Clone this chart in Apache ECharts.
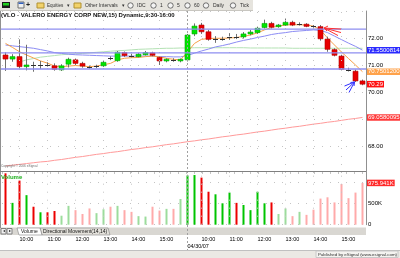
<!DOCTYPE html>
<html><head><meta charset="utf-8">
<script src="https://cdn.jsdelivr.net/npm/echarts@6/dist/echarts.min.js"></script>
<style>html,body{margin:0;padding:0;background:#fff}#c{width:400px;height:258px}</style>
</head><body><div id="c"></div>
<script>
// ---------------- data ----------------
const sessionTimes = ["9:30","9:45","10:00","10:15","10:30","10:45","11:00","11:15","11:30","11:45","12:00","12:15","12:30","12:45","13:00","13:15","13:30","13:45","14:00","14:15","14:30","14:45","15:00","15:15","15:30","15:45"];
const sessionDates = ["04/27/07","04/30/07"];
const categories = sessionDates.flatMap(d => sessionTimes.map(t => d + " " + t));

const open  = [71.37,71.22,71.31,70.94,71.00,70.99,71.04,70.97,70.82,71.03,71.19,71.06,70.94,70.92,70.97,71.26,71.16,71.46,71.34,71.31,71.38,71.45,71.28,71.15,71.21,71.15,
               71.19,72.15,72.48,72.23,71.95,71.97,72.02,72.04,72.04,72.15,72.20,72.39,72.54,72.42,72.48,72.58,72.51,72.51,72.46,72.42,71.96,71.57,71.33,70.84,70.77,70.41];
const high  = [71.47,71.40,71.95,71.75,71.12,71.15,71.10,71.06,71.03,71.27,71.24,71.12,70.98,71.01,71.16,71.32,71.52,71.50,71.42,71.44,71.52,71.49,71.31,71.25,71.25,71.24,
               72.15,72.54,72.56,72.30,72.07,72.05,72.18,72.15,72.22,72.30,72.42,72.68,72.60,72.52,72.72,72.64,72.58,72.55,72.48,72.48,72.05,71.62,71.38,70.90,70.83,70.46];
const low   = [70.78,71.12,70.84,70.80,70.75,70.85,70.94,70.79,70.78,70.91,71.00,70.90,70.86,70.88,70.93,71.18,71.12,71.30,71.28,71.28,71.35,71.32,71.00,71.10,71.12,71.10,
               71.13,72.07,72.15,71.90,71.82,71.90,71.93,71.96,71.98,72.10,72.15,72.35,72.35,72.38,72.45,72.44,72.46,72.40,72.38,71.90,71.49,71.32,70.80,70.76,70.37,70.25];
const close = [71.22,71.31,70.94,71.00,70.99,71.00,70.99,70.84,70.97,71.21,71.06,70.96,70.90,70.97,71.10,71.25,71.47,71.35,71.33,71.40,71.46,71.36,71.15,71.21,71.16,71.21,
               72.11,72.44,72.23,71.95,71.96,71.98,72.03,72.03,72.15,72.22,72.36,72.54,72.40,72.48,72.58,72.48,72.52,72.43,72.42,71.97,71.58,71.36,70.84,70.80,70.41,70.29];
const volume = [1200000,510000,1030000,690000,420000,290000,290000,320000,210000,440000,340000,250000,380000,270000,360000,420000,440000,340000,300000,200000,190000,420000,330000,370000,370000,600000,
                1150000,1160000,1100000,770000,710000,500000,750000,510000,460000,340000,770000,500000,520000,250000,380000,200000,300000,230000,350000,610000,640000,520000,950000,620000,750000,975941];
const maOrange = [71.80,71.65,71.49,71.37,71.26,71.15,71.07,70.96,70.94,70.96,70.98,70.96,70.94,70.96,71.01,71.06,71.19,71.25,71.27,71.28,71.31,71.33,71.30,71.25,71.21,71.19,
                  71.48,71.80,71.95,71.98,71.99,71.99,72.00,72.02,72.06,72.11,72.19,72.30,72.39,72.44,72.48,72.49,72.49,72.48,72.44,72.30,72.00,71.74,71.48,71.24,71.00,70.75012];
const maBlue = [71.74,71.71,71.68,71.65,71.62,71.57,71.52,71.46,71.43,71.40,71.38,71.37,71.36,71.35,71.34,71.33,71.33,71.33,71.33,71.33,71.33,71.33,71.31,71.31,71.30,71.30,
                71.35,71.44,71.52,71.59,71.67,71.72,71.78,71.85,71.91,71.96,72.02,72.07,72.13,72.17,72.20,72.24,72.26,72.28,72.30,72.28,72.20,72.07,71.94,71.81,71.69,71.5500814];
const maGreen = [null,null,71.11,71.19,71.24,71.29,71.32,71.35,71.38,71.40,71.41,71.43,71.45,71.47,71.49,71.51,71.53,71.54,71.56,71.58,71.59,71.60,71.61,71.62,71.62,71.63,
                 71.63,71.64,71.64,71.64,71.64,71.64,71.64,71.64,71.64,71.63,71.63,71.63,71.63,71.63,71.63,71.62,71.62,71.62,71.62,71.62,71.62,71.62,71.62,71.62,71.62,71.62];
const maRed = [67.26,67.29,67.32,67.35,67.38,67.41,67.43,67.47,67.50,67.54,67.58,67.61,67.65,67.69,67.72,67.76,67.79,67.83,67.87,67.90,67.94,67.97,68.01,68.05,68.08,68.12,
               68.16,68.19,68.23,68.26,68.30,68.34,68.37,68.41,68.44,68.48,68.52,68.55,68.59,68.63,68.66,68.70,68.73,68.77,68.81,68.84,68.88,68.91,68.95,68.99,69.02,69.0580095];
const trendLines = [72.33, 71.45, 70.85];
const priceTicks = [68, 70, 71, 72];
const volumeTicks = [0, 500000];
const brightVolumeRanges = [[0, 7], [26, 38]];

// ---------------- chart ----------------
const FONT = '"Liberation Sans", Arial, sans-serif';
const timeOf = i => categories[i].split(" ")[1];
const dateOf = i => categories[i].split(" ")[0];
const isHour = i => timeOf(i).endsWith(":00");
const isDayStart = i => i > 0 && timeOf(i) === sessionTimes[0];
const gridIdx = categories.map((c, i) => i).filter(i => isHour(i));
const dayIdx = categories.map((c, i) => i).filter(i => isDayStart(i));

const chart = echarts.init(document.getElementById('c'), null, {renderer: 'canvas', width: 400, height: 258});
const dotted = {color: '#c4c4c4', width: 1, type: [1, 7]};
const vMarks = gridIdx.map(i => ({xAxis: i, lineStyle: dotted}))
  .concat(dayIdx.map(i => ({xAxis: i, lineStyle: {color: '#a0a0a0', width: 1, type: [2, 2]}})));
const markCfg = {silent: true, symbol: ['none', 'none'], label: {show: false}, animation: false, data: vMarks};

const candleData = open.map((o, i) => [i, o, close[i], low[i], high[i]]);
const isBright = i => brightVolumeRanges.some(r => i >= r[0] && i <= r[1]);

chart.setOption({
  animation: false,
  backgroundColor: '#ffffff',
  grid: [
    {left: 2, top: 11, width: 364, height: 162},
    {left: 2, top: 172, width: 364, height: 52.7}
  ],
  xAxis: [
    {type: 'category', gridIndex: 0, data: categories, boundaryGap: true,
     axisLine: {show: false}, axisTick: {show: false}, axisLabel: {show: false}, splitLine: {show: false}},
    {type: 'category', gridIndex: 1, data: categories, boundaryGap: true,
     axisLine: {show: false}, axisTick: {show: false}, splitLine: {show: false},
     axisLabel: {show: true, margin: 11, align: 'left', fontSize: 5.5, fontFamily: FONT, color: '#000', lineHeight: 7,
       interval: (i) => isHour(i) || isDayStart(i),
       formatter: (v, i) => isDayStart(i) ? '\n' + dateOf(i) : timeOf(i)}}
  ],
  yAxis: [
    {type: 'value', gridIndex: 0, position: 'right', min: 67, max: 73, interval: 1,
     axisLine: {show: true, lineStyle: {color: '#909090'}}, axisTick: {show: false},
     axisLabel: {margin: 2, fontSize: 6, fontFamily: FONT, color: '#000',
       formatter: v => priceTicks.includes(v) ? v.toFixed(2) : ''},
     splitLine: {show: true, lineStyle: dotted}},
    {type: 'value', gridIndex: 1, position: 'right', min: 0, max: 1231000, interval: 500000,
     axisLine: {show: true, lineStyle: {color: '#909090'}}, axisTick: {show: false},
     axisLabel: {margin: 2, fontSize: 6, fontFamily: FONT, color: '#000',
       formatter: v => volumeTicks.includes(v) ? (v === 0 ? '0' : (v / 1000) + 'K') : ''},
     splitLine: {show: true, lineStyle: dotted}}
  ],
  series: [
    {type: 'line', name: 'grid', xAxisIndex: 0, yAxisIndex: 0, data: [], markLine: markCfg},
    {type: 'line', name: 'ma200', xAxisIndex: 0, yAxisIndex: 0, data: maRed, showSymbol: false, symbol: 'none',
     lineStyle: {color: '#ff9a9a', width: 1}, z: 2},
    {type: 'line', name: 'ma50', xAxisIndex: 0, yAxisIndex: 0, data: maGreen, showSymbol: false, symbol: 'none',
     lineStyle: {color: '#b4e2b4', width: 1}, z: 2},
    {type: 'line', name: 'ma20', xAxisIndex: 0, yAxisIndex: 0, data: maBlue, showSymbol: false, symbol: 'none',
     lineStyle: {color: '#8c8cf4', width: 1}, z: 2},
    {type: 'line', name: 'ma5', xAxisIndex: 0, yAxisIndex: 0, data: maOrange, showSymbol: false, symbol: 'none',
     lineStyle: {color: '#f7a048', width: 1}, z: 3},
    {type: 'custom', name: 'price', xAxisIndex: 0, yAxisIndex: 0, data: candleData, z: 4,
     encode: {x: 0, y: [1, 2, 3, 4]},
     renderItem: (params, api) => {
       const i = api.value(0);
       const o = api.coord([i, api.value(1)]), c = api.coord([i, api.value(2)]);
       const l = api.coord([i, api.value(3)]), h = api.coord([i, api.value(4)]);
       const x = Math.floor(o[0]) + 0.5;
       const up = api.value(2) >= api.value(1);
       const top = Math.min(o[1], c[1]), bot = Math.max(o[1], c[1]);
       const ch = [{type: 'line', shape: {x1: x, y1: h[1], x2: x, y2: l[1]}, style: {stroke: '#707070', lineWidth: 1}}];
       if (bot - top < 1.5) {
         const m = Math.round((top + bot) / 2) + 0.5;
         ch.push({type: 'line', shape: {x1: x - 2.5, y1: m, x2: x + 2.5, y2: m}, style: {stroke: '#303030', lineWidth: 1}});
       } else {
         ch.push({type: 'rect', shape: {x: x - 2.5, y: top, width: 5, height: bot - top},
           style: {fill: up ? '#00e400' : '#e80000', stroke: up ? '#00a800' : '#b00000', lineWidth: 0.6}});
       }
       return {type: 'group', children: ch};
     }},
    {type: 'bar', name: 'volume', xAxisIndex: 1, yAxisIndex: 1, barWidth: 2,
     data: volume.map((v, i) => ({value: v, itemStyle: {color:
       (close[i] >= open[i]) ? (isBright(i) ? '#00c400' : '#9cdc9c') : (isBright(i) ? '#ec0000' : '#ffaaaa')}})),
     markLine: markCfg}
  ]
});

// ---------------- decorations tied to the scales ----------------
const px = (i, v) => chart.convertToPixel({gridIndex: 0}, [i, v]);
const pv = (i, v) => chart.convertToPixel({gridIndex: 1}, [i, v]);
const last = categories.length - 1;
const g = [];
const txt = (text, x, y, font, fill, extra) => Object.assign({type: 'text', z: 100, silent: true,
  style: Object.assign({text, x, y, font, fill, verticalAlign: 'middle'}, extra || {})});
const rect = (x, y, w, h, fill, stroke) => ({type: 'rect', z: 90, silent: true, shape: {x, y, width: w, height: h},
  style: {fill, stroke: stroke || null, lineWidth: stroke ? 1 : 0}});
const line = (x1, y1, x2, y2, stroke, w, dash) => ({type: 'line', z: 95, silent: true, shape: {x1, y1, x2, y2},
  style: {stroke, lineWidth: w || 1, lineDash: dash || null}});

// trend lines
trendLines.forEach(v => { const y = px(0, v)[1]; g.push(line(0, y, 366, y, '#8e8ef0', 1.4)); });

// toolbar
g.push(rect(0, 0, 253, 10.5, '#e6e4de'));
g.push(line(0, 10.5, 253, 10.5, '#c8c6c0', 1));
g.push(rect(2, 2, 8, 6, '#1a1a1a'), rect(3, 3, 6, 2.5, '#20d020'));
g.push(rect(18, 2, 6, 6, '#f0f0f0', '#707070'), rect(18.5, 2.5, 5, 1.5, '#3060c0'));
g.push(txt('+', 28, 5.5, 'bold 7px ' + FONT, '#202020', {align: 'center'}));
g.push(rect(37, 3, 7, 5, '#f2d26a', '#b09030'));
g.push(txt('Equities', 47, 5.5, '4.6px ' + FONT, '#303030'));
g.push(txt('▾', 67, 5.5, '4.5px ' + FONT, '#303030'));
g.push(rect(74, 3, 7, 5, '#f2d26a', '#b09030'));
g.push(txt('Other Intervals', 85, 5.5, '5px ' + FONT, '#303030'));
g.push(txt('▾', 122, 5.5, '4.5px ' + FONT, '#303030'));
[[130.5, 'IDC', 137], [153.5, '1', 160], [170.5, '5', 177], [187.5, '60', 194], [206, 'Daily', 213], [233, 'Tick', 240]].forEach(a => {
  g.push({type: 'circle', z: 95, silent: true, shape: {cx: a[0], cy: 5.5, r: 2.7}, style: {fill: '#f4f4f4', stroke: '#505050', lineWidth: 0.8}});
  g.push(txt(a[1], a[2], 5.5, '5px ' + FONT, '#303030'));
});

// title and panel chrome
g.push(txt('(VLO - VALERO ENERGY CORP NEW,15) Dynamic,9:30-16:00', 1, 15, 'bold 6px ' + FONT, '#101010'));
g.push(line(0.5, 11, 0.5, 228, '#909090', 1));
g.push(line(0, 171.5, 366, 171.5, '#808080', 1));
g.push(txt('Copyright © 2006 eSignal', 1, 166.5, '3.2px ' + FONT, '#707070'));
g.push(txt('Volume', 1, 177, 'bold 6px ' + FONT, '#20b020'));

// day separator continues through the time axis
dayIdx.forEach(i => { const x = Math.floor(pv(i, 0)[0]) + 0.5; g.push(line(x, 225, x, 250, '#a0a0a0', 1, [2, 2])); });

// tab bar
g.push(rect(0, 227.5, 366, 7.5, '#d9d7d2'));
g.push(rect(1, 228.5, 5, 5.5, '#efefef', '#808080'), rect(7, 228.5, 5, 5.5, '#efefef', '#808080'));
g.push(txt('◂', 3.5, 231.3, '4px ' + FONT, '#202020', {align: 'center'}), txt('▸', 9.5, 231.3, '4px ' + FONT, '#202020', {align: 'center'}));
g.push({type: 'polygon', z: 92, silent: true, shape: {points: [[17, 228], [40, 228], [42, 235], [19, 235]]}, style: {fill: '#ffffff', stroke: '#808080', lineWidth: 0.6}});
g.push(txt('Volume', 21, 231.5, '5px ' + FONT, '#101010'));
g.push({type: 'polygon', z: 91, silent: true, shape: {points: [[40, 228], [108, 228], [110, 235], [42, 235]]}, style: {fill: '#e4e2dc', stroke: '#808080', lineWidth: 0.6}});
g.push(txt('Directional Movement(14,14)', 43, 231.5, '5px ' + FONT, '#101010'));

// status bar
g.push(rect(0, 250, 400, 8, '#ebe9e4'));
g.push(line(0, 250.5, 400, 250.5, '#c0c0c0', 1));
g.push(rect(316, 251, 82, 6.5, '#f4f3f0', '#c8c8c8'));
g.push(txt('Published by eSignal (www.esignal.com)', 397, 254.3, '4.4px ' + FONT, '#303030', {align: 'right'}));

// value boxes on the right axis
const box = (text, y, bg) => txt(text, 367, y, '6px ' + FONT, '#ffffff', {backgroundColor: bg, padding: [0.5, 1, 0, 1]});
g.push(box(maBlue[last].toFixed(7), px(last, maBlue[last])[1], '#2a2aff'));
g.push(box(maOrange[last].toFixed(7), px(last, maOrange[last])[1], '#ffa24a'));
g.push(box(close[last].toFixed(2), px(last, close[last])[1], '#ff1010'));
g.push(box(maRed[last].toFixed(7), px(last, maRed[last])[1], '#ff3a3a'));
g.push(box((volume[last] / 1000).toFixed(3) + 'K', pv(last, volume[last])[1], '#ff2a2a'));

// drawn arrows
const rTip = px(45, high[45]); const rx = rTip[0] + 3.5, ry = rTip[1] + 3;
[[17, 1], [17, 4.5], [14, 7.5]].forEach(d => g.push(line(rx, ry, rx + d[0], ry + d[1], '#ff3030', 1)));
g.push(line(rx, ry, rx + 4, ry - 2, '#ff3030', 1), line(rx, ry, rx + 3, ry + 3, '#ff3030', 1));
const bTip = px(50, low[50]); const bx = bTip[0] - 1, by = bTip[1];
[[-10, 4], [-8.5, 8], [-5.5, 10.5]].forEach(d => g.push(line(bx, by, bx + d[0], by + d[1], '#3030ff', 1)));
g.push(line(bx, by, bx - 4, by + 0.5, '#3030ff', 1), line(bx, by, bx - 0.5, by + 4, '#3030ff', 1));

chart.setOption({graphic: g});
</script>
</body></html>
